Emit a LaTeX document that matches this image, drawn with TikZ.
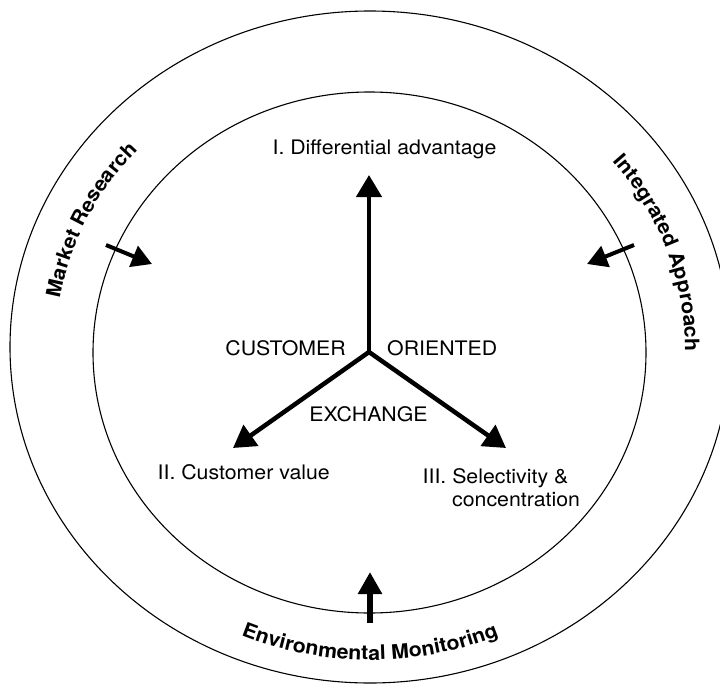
\documentclass[tikz,border=0pt]{standalone}
\usepackage{fontspec}
\setmainfont{TeX Gyre Heros}[FakeStretch=1.065]
\usetikzlibrary{arrows.meta,decorations.text}
\begin{document}
\begin{tikzpicture}[x=1pt,y=1pt,
  ring/.style={line width=1.1pt},
  bigarrow/.style={line width=4.5pt,-{Triangle[length=22pt,width=25pt]}},
  sidearrow/.style={line width=4pt,-{Triangle[length=20pt,width=22pt]}},
  envarrow/.style={line width=6pt,-{Triangle[length=22pt,width=23pt]}},
  lbl/.style={font=\fontsize{20}{24}\selectfont, inner sep=0pt},
  curved/.style={decorate, decoration={text along path, text align=center, text={|\fontsize{20}{24}\selectfont\bfseries|#1}}}
]
\useasboundingbox (0,0) rectangle (720,-685);
\clip (0,0) rectangle (720,-685);
% rings
\draw[ring] (370,-347) ellipse [x radius=360, y radius=336];
\draw[ring] (369.5,-352.5) ellipse [x radius=276.5, y radius=260.5];
\coordinate (tc) at (370,-350);
% curved labels
\path[curved={Market Research}] ([shift={(185:315 and 296)}]tc) arc[start angle=185, end angle=123, x radius=315, y radius=296];
\path[curved={Integrated Approach}] ([shift={(50:315 and 296)}]tc) arc[start angle=50, end angle=-11, x radius=315, y radius=296];
\path[curved={Environmental Monitoring}] ([shift={(225:330 and 310)}]tc) arc[start angle=225, end angle=315, x radius=330, y radius=310];
% central Y
\coordinate (hub) at (369,-352);
\coordinate (tipI) at (369,-175);
\coordinate (tipII) at (233,-448);
\coordinate (tipIII) at (506,-448);
\draw[bigarrow] (hub) -- (tipI);
\draw[bigarrow] (hub) -- (tipII);
\draw[bigarrow] (hub) -- (tipIII);
% side arrows
\coordinate (mrtail) at (106,-245);
\coordinate (mrtip) at (152,-264);
\coordinate (iatail) at (634,-245);
\coordinate (iatip) at (587,-264);
\coordinate (emtail) at (370,-623);
\coordinate (emtip) at (370,-572);
\draw[sidearrow] (mrtail) -- (mrtip);
\draw[sidearrow] (iatail) -- (iatip);
\draw[envarrow] (emtail) -- (emtip);
% labels
\node[lbl, anchor=base] (diff) at (384.5,-154) {I. Differential advantage};
\node[lbl, anchor=base east] (cust) at (346,-355) {CUSTOMER};
\node[lbl, anchor=base west] (orient) at (387,-355) {ORIENTED};
\node[lbl, anchor=base] (exch) at (368.5,-421) {EXCHANGE};
\node[lbl, anchor=base west] (value) at (157.5,-479) {II. Customer value};
\node[lbl, anchor=base west] (select) at (422.5,-483) {III. Selectivity \&};
\node[lbl, anchor=base west] (conc) at (452,-506) {concentration};
\end{tikzpicture}
\end{document}
